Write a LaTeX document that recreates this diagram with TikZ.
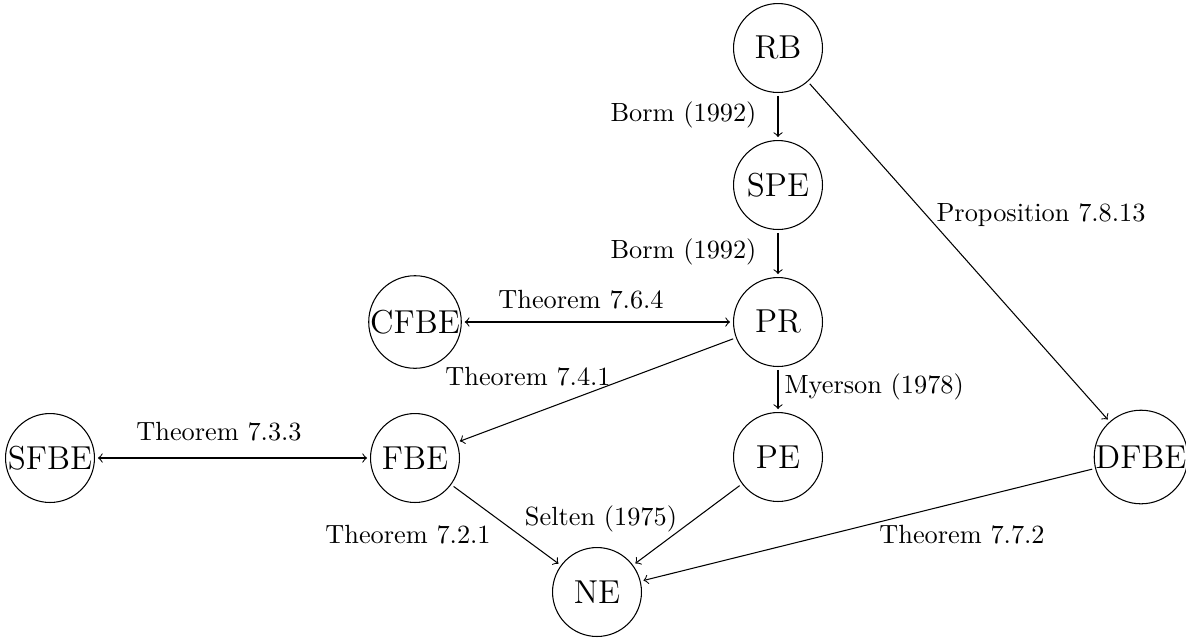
\documentclass[tikz,border=0pt]{standalone}
\usetikzlibrary{arrows}
\begin{document}
\begin{tikzpicture}[x=0.38pt,y=-0.38pt,
  state/.style={circle,draw,inner sep=0pt,minimum size=33.8pt,outer sep=1.3pt,font=\fontsize{12.6}{15}\selectfont},
  lbl/.style={inner sep=0pt},
  conn/.style={->},
  conn2/.style={<->}]
\useasboundingbox (0,0) rectangle (1186,638);
\node[state] (RB) at (778,48) {RB};
\node[state] (SPE) at (778,185) {SPE};
\node[state] (PR) at (778,322) {PR};
\node[state] (PE) at (778,457) {PE};
\node[state] (DFBE) at (1141,457) {DFBE};
\node[state] (CFBE) at (415,322) {CFBE};
\node[state] (SFBE) at (50,458) {SFBE};
\node[state] (FBE) at (415,458) {FBE};
\node[state] (NE) at (597,592) {NE};
\draw[conn] (RB) -- (SPE);
\draw[conn] (SPE) -- (PR);
\draw[conn] (PR) -- (PE);
\draw[conn] (RB) -- (DFBE);
\draw[conn2] (CFBE) -- (PR);
\draw[conn2] (SFBE) -- (FBE);
\draw[conn] (PR) -- (FBE);
\draw[conn] (FBE) -- (NE);
\draw[conn] (PE) -- (NE);
\draw[conn] (DFBE) -- (NE);
\node[lbl,anchor=east] (l1) at (757,115) {Borm (1992)};
\node[lbl,anchor=east] (l2) at (757,252) {Borm (1992)};
\node[lbl,anchor=west] (l3) at (784,387) {Myerson (1978)};
\node[lbl,anchor=west] (l4) at (936,215) {Proposition 7.8.13};
\node[lbl] (l5) at (581,300) {Theorem 7.6.4};
\node[lbl] (l6) at (528,377) {Theorem 7.4.1};
\node[lbl] (l7) at (219,432) {Theorem 7.3.3};
\node[lbl] (l8) at (408,535) {Theorem 7.2.1};
\node[lbl] (l9) at (601,519) {Selten (1975)};
\node[lbl] (l10) at (962,535) {Theorem 7.7.2};
\end{tikzpicture}
\end{document}
